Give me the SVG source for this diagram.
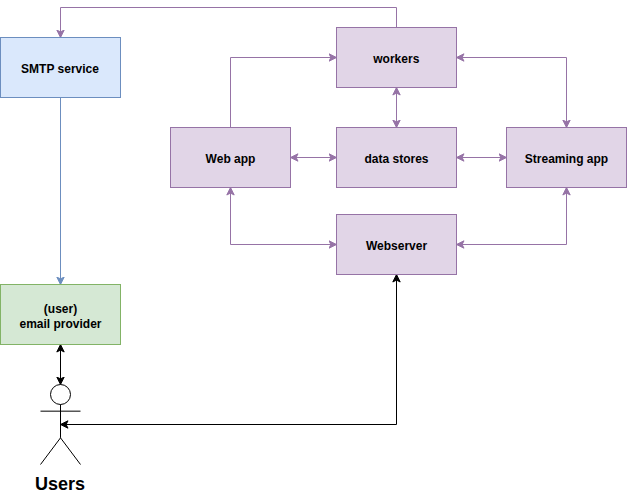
<svg xmlns="http://www.w3.org/2000/svg" width="627" height="493" viewBox="0 0 627 493">
<defs>
<marker id="p" markerUnits="userSpaceOnUse" markerWidth="9" markerHeight="9" refX="8" refY="4.5" orient="auto-start-reverse"><path d="M0.500 0.800L8 4.500L0.500 8.200L2.400 4.500Z" fill="#9673a6" stroke="#9673a6"/></marker>
<marker id="k" markerUnits="userSpaceOnUse" markerWidth="9" markerHeight="9" refX="8" refY="4.5" orient="auto-start-reverse"><path d="M0.500 0.800L8 4.500L0.500 8.200L2.400 4.500Z" fill="#000" stroke="#000"/></marker>
<marker id="b" markerUnits="userSpaceOnUse" markerWidth="9" markerHeight="9" refX="8" refY="4.5" orient="auto"><path d="M0.500 0.800L8 4.500L0.500 8.200L2.400 4.500Z" fill="#6c8ebf" stroke="#6c8ebf"/></marker>
</defs>
<style>
text{font-family:"Liberation Sans",Arial,sans-serif;font-size:12px;font-weight:bold;text-anchor:middle;fill:#000}
.v rect{fill:#e1d5e7;stroke:#9673a6}
#connectors path{fill:none}
.pl{stroke:#9673a6;marker-start:url(#p);marker-end:url(#p)}
.kl{stroke:#000;marker-start:url(#k);marker-end:url(#k)}
</style>
<rect width="627" height="493" fill="#fff"/>
<g id="connectors">
<path d="M396.500 27.500V7.500H60.500V37.500" stroke="#9673a6" marker-end="url(#p)"/>
<path d="M60.500 97.500V284.500" stroke="#6c8ebf" marker-end="url(#b)"/>
<path d="M230.500 127.500V57.500H336.500" stroke="#9673a6" marker-end="url(#p)"/>
<path class="pl" d="M456.500 57.500H566.500V127.500"/>
<path class="pl" d="M396.500 87.500V127.500"/>
<path class="pl" d="M290.500 157.500H336.500"/>
<path class="pl" d="M456.500 157.500H506.500"/>
<path class="pl" d="M230.500 187.500V244.500H336.500"/>
<path class="pl" d="M456.500 244.500H566.500V187.500"/>
<path class="kl" d="M60.500 344.500V384.500"/>
<path class="kl" d="M60.500 424.500H396.500V274.500"/>
</g>
<g id="smtp"><rect x="0.500" y="37.500" width="120" height="60" fill="#dae8fc" stroke="#6c8ebf"/><text x="60" y="72.500">SMTP service</text></g>
<g id="provider"><rect x="0.500" y="284.500" width="120" height="60" fill="#d5e8d4" stroke="#82b366"/><text x="60.500" y="312.500">(user)</text><text x="60.500" y="327.500">email provider</text></g>
<g id="workers" class="v"><rect x="336.500" y="27.500" width="120" height="60"/><text x="396.300" y="62.500">workers</text></g>
<g id="webapp" class="v"><rect x="170.500" y="127.500" width="120" height="60"/><text x="230.500" y="162.500">Web app</text></g>
<g id="datastores" class="v"><rect x="336.500" y="127.500" width="120" height="60"/><text x="396.500" y="162.500">data stores</text></g>
<g id="streaming" class="v"><rect x="506.500" y="127.500" width="120" height="60"/><text x="566.500" y="162.500">Streaming app</text></g>
<g id="webserver" class="v"><rect x="336.500" y="214.500" width="120" height="60"/><text x="396.500" y="249.500">Webserver</text></g>
<g id="users"><circle cx="60.500" cy="394.500" r="10" fill="#fff" stroke="#000"/><path d="M60.500 404.500V437.830M40.500 411.170H80.500M60.500 437.830L40.500 464.500M60.500 437.830L80.500 464.500" fill="none" stroke="#000"/><text x="60" y="490" style="font-size:18px">Users</text></g>
</svg>
